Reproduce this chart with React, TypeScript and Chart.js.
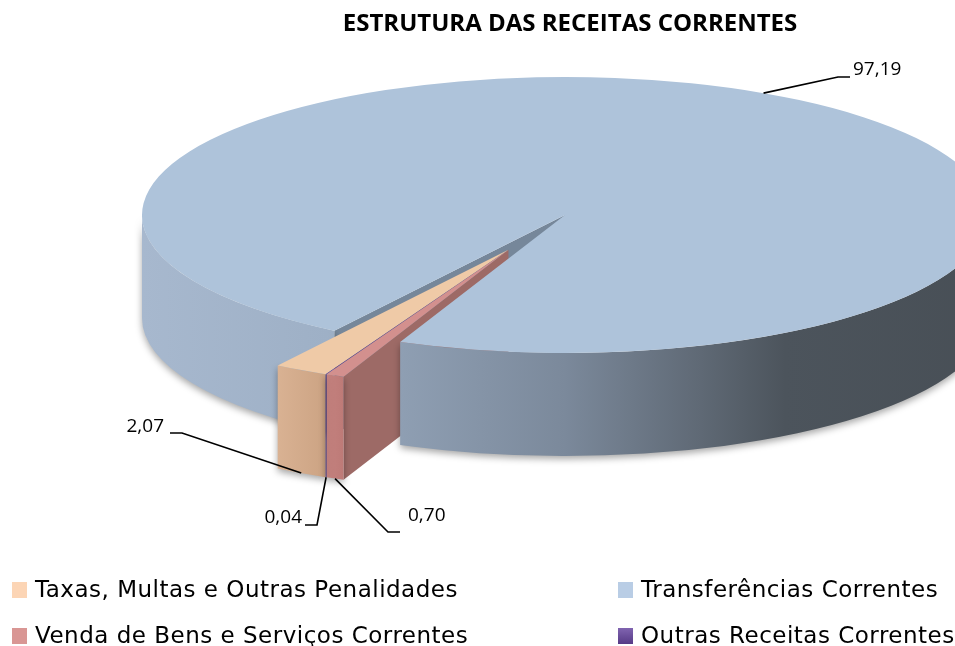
import React, { useEffect, useRef } from 'react';
import { Chart, registerables } from 'chart.js';

Chart.register(...registerables);

// ---------- data ----------
const TITLE = 'ESTRUTURA DAS RECEITAS CORRENTES';
const categories = [
  'Taxas, Multas e Outras Penalidades',
  'Transferências Correntes',
  'Venda de Bens e Serviços Correntes',
  'Outras Receitas Correntes',
];
const values = [2.07, 97.19, 0.7, 0.04];
const valueLabels = ['2,07', '97,19', '0,70', '0,04'];
const explodedFlags = [true, false, true, true];

// ---------- styles ----------
const topColors = ['#efcaa7', '#aec3da', '#d3908e', '#5c3d8d'];
const wallStops = [
  ['#d9b293', '#cca383'],
  ['#a7b8ce', '#484f56'],
  ['#c5827f', '#bd7a77'],
  ['#4d3279', '#452c6e'],
];
const faceColors = ['#c9a080', '#76879a', '#9d6a66', '#3f2868'];
const legendColors = ['#fcd5b5', '#b9cde5', '#d99694', '#6b4d9c'];
const FONT = "'Open Sans', 'DejaVu Sans', sans-serif";
const LEGEND_FONT = "'DejaVu Sans', 'Open Sans', sans-serif";

const GEO = { cx: 565, cy: 215, rx: 423, ry: 138, depth: 103, explode: 0.285 };
const ROTATION = 205.6;

// label placement: text position, alignment and leader elbow
const LABEL_LAYOUT = [
  { tx: 164, ty: 427, align: 'right', elbow: [[170, 433], [182, 433]] },
  { tx: 853, ty: 70, align: 'left', elbow: [[850, 77], [838, 77]] },
  { tx: 408, ty: 516, align: 'left', elbow: [[400, 532], [388, 532]] },
  { tx: 302, ty: 518, align: 'right', elbow: [[305, 525], [317, 525]] },
];
const LEGEND_LAYOUT = { colBox: [12, 618], colText: [35, 641], rowY: [590, 636], box: [15, 16] };

let anchors: Array<[number, number]> = [];

function frontRanges(a: number, b: number) {
  const out: Array<[number, number]> = [];
  for (let k = -2; k <= 3; k++) {
    const lo = Math.max(a, 2 * Math.PI * k);
    const hi = Math.min(b, 2 * Math.PI * k + Math.PI);
    if (hi > lo) out.push([lo, hi]);
  }
  return out;
}

function rimPt(ox: number, oy: number, t: number): [number, number] {
  return [GEO.cx + ox + GEO.rx * Math.cos(t), GEO.cy + oy + GEO.ry * Math.sin(t)];
}

function drawFace(ctx: CanvasRenderingContext2D, ox: number, oy: number, t: number, color: string) {
  const D = GEO.depth;
  const [px, py] = rimPt(ox, oy, t);
  ctx.beginPath();
  ctx.moveTo(GEO.cx + ox, GEO.cy + oy);
  ctx.lineTo(px, py);
  ctx.lineTo(px, py + D);
  ctx.lineTo(GEO.cx + ox, GEO.cy + oy + D);
  ctx.closePath();
  ctx.fillStyle = color;
  ctx.fill();
}

function drawWall(ctx: CanvasRenderingContext2D, ox: number, oy: number, a: number, b: number, i: number) {
  const D = GEO.depth;
  for (const [lo, hi] of frontRanges(a, b)) {
    const x1 = i === 1 ? GEO.cx - GEO.rx : rimPt(ox, oy, hi)[0];
    const x2 = i === 1 ? GEO.cx + GEO.rx : rimPt(ox, oy, lo)[0];
    const g = ctx.createLinearGradient(Math.min(x1, x2) - 0.5, 0, Math.max(x1, x2) + 0.5, 0);
    if (i === 1) {
      g.addColorStop(0, '#a7b8ce');
      g.addColorStop(0.22, '#9eb0c6');
      g.addColorStop(0.31, '#8e9eb2');
      g.addColorStop(0.5, '#7b899b');
      g.addColorStop(0.66, '#5f6975');
      g.addColorStop(0.76, '#4c545c');
      g.addColorStop(1, '#484f56');
    } else {
      g.addColorStop(0, wallStops[i][0]);
      g.addColorStop(1, wallStops[i][1]);
    }
    ctx.save();
    ctx.shadowColor = 'rgba(0,0,0,0.35)';
    ctx.shadowBlur = 7;
    ctx.shadowOffsetY = 3;
    ctx.beginPath();
    ctx.ellipse(GEO.cx + ox, GEO.cy + oy, GEO.rx, GEO.ry, 0, lo, hi);
    ctx.ellipse(GEO.cx + ox, GEO.cy + oy + D, GEO.rx, GEO.ry, 0, hi, lo, true);
    ctx.closePath();
    ctx.fillStyle = g;
    ctx.fill();
    ctx.restore();
  }
}

const pie3d = {
  id: 'pie3d',
  beforeDatasetsDraw(chart: any) {
    const ctx: CanvasRenderingContext2D = chart.ctx;
    const arcs = chart.getDatasetMeta(0).data as any[];
    if (!arcs.length) return false;
    const { x: cx0, y: cy0, outerRadius: R0 } = arcs[0];
    const sx = GEO.rx / R0;
    const sy = GEO.ry / R0;
    let vx = 0, vy = 0;
    arcs.forEach((a, i) => {
      if (explodedFlags[i]) {
        const m = (a.startAngle + a.endAngle) / 2;
        const w = a.endAngle - a.startAngle;
        vx += Math.cos(m) * w;
        vy += Math.sin(m) * w;
      }
    });
    const phi = Math.atan2(vy, vx);
    const ex = GEO.explode * GEO.rx * Math.cos(phi);
    const ey = GEO.explode * GEO.ry * Math.sin(phi);
    const off = (i: number) => (explodedFlags[i] ? [ex, ey] : [0, 0]);
    const n = arcs.length;

    anchors = arcs.map((a, i) => {
      const m = (a.startAngle + a.endAngle) / 2;
      const [ox, oy] = off(i);
      const [px, py] = rimPt(ox, oy, m);
      return explodedFlags[i] ? [px, py + GEO.depth] : [px, py];
    });

    const groups = [false, true].map((g) => arcs.map((_, i) => i).filter((i) => explodedFlags[i] === g));

    // 1. cut faces (back to front)
    for (const idx of groups) {
      for (const i of idx) {
        const a = arcs[i];
        const [ox, oy] = off(i);
        const prev = (i - 1 + n) % n;
        const next = (i + 1) % n;
        if (explodedFlags[prev] !== explodedFlags[i] && Math.cos(a.startAngle) < 0) drawFace(ctx, ox, oy, a.startAngle, faceColors[i]);
        if (explodedFlags[next] !== explodedFlags[i] && Math.cos(a.endAngle) > 0) drawFace(ctx, ox, oy, a.endAngle, faceColors[i]);
      }
    }
    // 2. outer walls
    for (const idx of groups) {
      for (const i of idx) {
        const a = arcs[i];
        const [ox, oy] = off(i);
        drawWall(ctx, ox, oy, a.startAngle, a.endAngle, i);
      }
    }
    // 3. top surfaces, drawn by the library's arc elements
    for (const idx of groups) {
      for (const i of idx) {
        const [ox, oy] = off(i);
        ctx.save();
        ctx.translate(ox, oy);
        ctx.transform(sx, 0, 0, sy, GEO.cx - cx0 * sx, GEO.cy - cy0 * sy);
        arcs[i].draw(ctx);
        ctx.restore();
      }
    }
    return false;
  },
  afterDraw(chart: any) {
    const ctx: CanvasRenderingContext2D = chart.ctx;
    ctx.save();
    // data labels
    ctx.font = `19px ${FONT}`;
    ctx.textBaseline = 'middle';
    ctx.fillStyle = '#000';
    ctx.strokeStyle = '#000';
    ctx.lineWidth = 1.6;
    anchors.forEach((p, i) => {
      const L = LABEL_LAYOUT[i];
      ctx.beginPath();
      ctx.moveTo(p[0], p[1]);
      ctx.lineTo(L.elbow[1][0], L.elbow[1][1]);
      ctx.lineTo(L.elbow[0][0], L.elbow[0][1]);
      ctx.stroke();
      ctx.textAlign = L.align as CanvasTextAlign;
      ctx.fillText(valueLabels[i], L.tx, L.ty);
    });
    // legend
    ctx.font = `23px ${LEGEND_FONT}`;
    (ctx as any).letterSpacing = '0.5px';
    ctx.textAlign = 'left';
    categories.forEach((c, i) => {
      const col = i % 2;
      const row = Math.floor(i / 2);
      const bx = LEGEND_LAYOUT.colBox[col];
      const by = LEGEND_LAYOUT.rowY[row] - LEGEND_LAYOUT.box[1] / 2;
      if (i === 3) {
        const g = ctx.createLinearGradient(0, by, 0, by + LEGEND_LAYOUT.box[1]);
        g.addColorStop(0, '#8064b0');
        g.addColorStop(1, '#563a86');
        ctx.fillStyle = g;
      } else {
        ctx.fillStyle = legendColors[i];
      }
      ctx.fillRect(bx, by, LEGEND_LAYOUT.box[0], LEGEND_LAYOUT.box[1]);
      ctx.fillStyle = '#000';
      ctx.fillText(c, LEGEND_LAYOUT.colText[col], LEGEND_LAYOUT.rowY[row] + 1);
    });
    (ctx as any).letterSpacing = '0px';
    ctx.restore();
  },
};

export default function App() {
  const ref = useRef<HTMLCanvasElement>(null);
  useEffect(() => {
    if (!ref.current) return;
    const chart = new Chart(ref.current, {
      type: 'pie',
      data: {
        labels: categories,
        datasets: [
          {
            data: values,
            backgroundColor: topColors,
            borderWidth: 0,
            hoverOffset: 0,
          },
        ],
      },
      options: {
        responsive: false,
        devicePixelRatio: 1,
        animation: false,
        events: [],
        rotation: ROTATION,
        layout: { padding: { left: 185, top: 0, right: 0, bottom: 0 } },
        plugins: {
          legend: { display: false },
          tooltip: { enabled: false },
          title: {
            display: true,
            text: TITLE,
            fullSize: false,
            color: '#000',
            font: { family: FONT, size: 24, weight: 'bold' },
            padding: { top: 10, bottom: 10 },
          },
        },
      } as any,
      plugins: [pie3d as any],
    });
    return () => chart.destroy();
  }, []);
  return (
    <div style={{ position: 'absolute', left: 0, top: 0, width: 955, height: 646, background: '#fff' }}>
      <canvas ref={ref} width={955} height={646} style={{ display: 'block' }} />
    </div>
  );
}
